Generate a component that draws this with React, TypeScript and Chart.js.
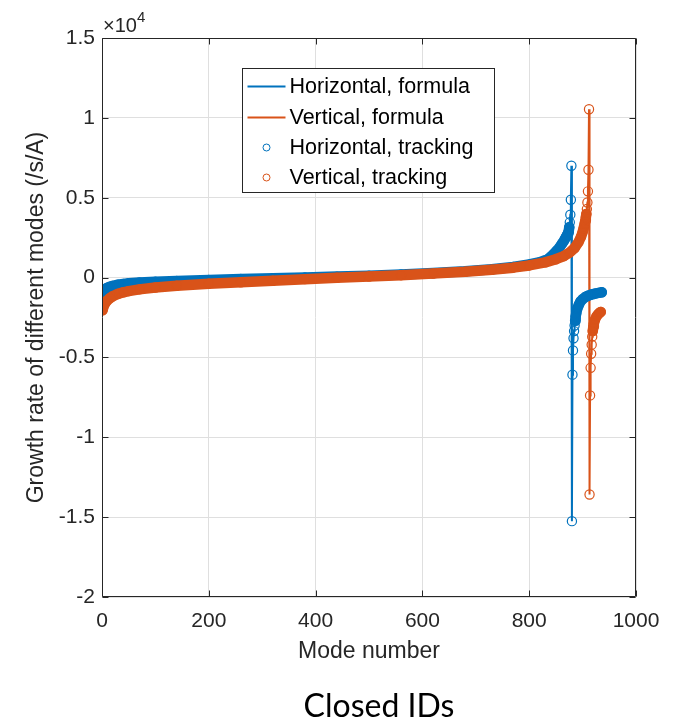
import React, { useEffect, useRef } from 'react';
import { Chart, registerables } from 'chart.js';

Chart.register(...registerables);

// ---- data (values in /s/A) ----
const hModes = [1, 3, 6, 10, 15, 20, 30, 40, 50, 70, 100, 140, 200, 260, 320, 380, 440, 500, 560, 620, 680, 730, 770, 800, 820, 835, 845, 852, 858, 862, 865, 867, 869, 870, 871, 872, 873, 874, 875, 876, 877, 878, 879, 880, 881, 882, 883, 884, 885, 886, 887, 888, 890, 893, 896, 900, 905, 910, 915, 920, 925, 930, 936];
const hValues = [-900, -800, -720, -640, -570, -520, -450, -400, -360, -310, -260, -210, -150, -90, -40, 10, 60, 120, 190, 280, 390, 520, 660, 820, 960, 1150, 1450, 1700, 1950, 2150, 2300, 2420, 2540, 2600, 2660, 2730, 2800, 2900, 3150, 3460, 3940, 4875, 7000, -15250, -6080, -4560, -3800, -3350, -3000, -2700, -2450, -2250, -1950, -1700, -1500, -1350, -1220, -1140, -1080, -1030, -990, -960, -920];

const vModes = [1, 3, 6, 10, 15, 20, 30, 40, 50, 70, 100, 140, 200, 260, 320, 380, 440, 500, 560, 620, 680, 730, 770, 800, 830, 850, 865, 875, 885, 892, 897, 900, 902, 904, 905, 906, 907, 908, 909, 910, 911, 912, 913, 914, 915, 916, 917, 918, 919, 920, 921, 923, 926, 929, 932, 934];
const vValues = [-2050, -1800, -1600, -1430, -1280, -1170, -1020, -920, -850, -740, -620, -510, -380, -290, -200, -100, -10, 70, 150, 250, 360, 490, 620, 760, 950, 1150, 1350, 1550, 1850, 2200, 2550, 2850, 3100, 3380, 3550, 3750, 3980, 4290, 4700, 5400, 6750, 10540, -13580, -7380, -5650, -4770, -4200, -3700, -3350, -3100, -2900, -2650, -2430, -2300, -2200, -2150];

const seriesLabels = ['Horizontal, formula', 'Vertical, formula', 'Horizontal, tracking', 'Vertical, tracking'];
const xTicks = [0, 200, 400, 600, 800, 1000];
const yTicks = [-20000, -15000, -10000, -5000, 0, 5000, 10000, 15000];
const xLabel = 'Mode number';
const yLabel = 'Growth rate of different modes (/s/A)';
const chartTitle = 'Closed IDs';

const BLUE = '#0072BD';
const ORANGE = '#D95319';
const AXIS = '#262626';
const SANS = '"Liberation Sans", Arial, Helvetica, sans-serif';

const toPoints = (xs: number[], ys: number[]) => xs.map((x, i) => ({ x, y: ys[i] }));

// Dense runs of tracking circles (small pixel step per mode) merge into a solid band.
const bandColor = (color: string, modes: number[]) => (ctx: any) => {
  const dm = Math.max(1, modes[ctx.p1DataIndex] - modes[ctx.p0DataIndex]);
  const dy = Math.abs(ctx.p1.y - ctx.p0.y) / dm;
  return dy < 4.5 ? color : 'rgba(0,0,0,0)';
};

const framePlugin = {
  id: 'frame',
  afterDatasetsDraw(chart: any) {
    const { ctx, chartArea: a, scales } = chart;
    ctx.save();
    ctx.strokeStyle = AXIS;
    ctx.lineWidth = 1;
    const L = Math.round(a.left) + 0.5;
    const R = Math.round(a.right) - 0.5;
    const T = Math.round(a.top) + 0.5;
    const B = Math.round(a.bottom) - 0.5;
    ctx.beginPath();
    ctx.rect(L, T, R - L, B - T);
    xTicks.forEach((v) => {
      const x = Math.round(scales.x.getPixelForValue(v)) + 0.5;
      ctx.moveTo(x, B);
      ctx.lineTo(x, B - 6);
      ctx.moveTo(x, T);
      ctx.lineTo(x, T + 6);
    });
    yTicks.forEach((v) => {
      const y = Math.round(scales.y.getPixelForValue(v)) + 0.5;
      ctx.moveTo(L, y);
      ctx.lineTo(L + 6, y);
      ctx.moveTo(R, y);
      ctx.lineTo(R - 6, y);
    });
    ctx.stroke();

    // exponent label
    ctx.fillStyle = AXIS;
    ctx.textBaseline = 'alphabetic';
    ctx.textAlign = 'left';
    ctx.font = '20px ' + SANS;
    ctx.fillText('\u00d710', a.left + 1, a.top - 6);
    const w = ctx.measureText('\u00d710').width;
    ctx.font = '15px ' + SANS;
    ctx.fillText('4', a.left + 1 + w, a.top - 16);
    ctx.restore();
  },
  afterDraw(chart: any) {
    const { ctx, chartArea: a } = chart;
    ctx.save();
    const bx = Math.round(a.left + 140) + 0.5;
    const by = Math.round(a.top + 30) + 0.5;
    const bw = 252;
    const bh = 124;
    ctx.fillStyle = '#ffffff';
    ctx.fillRect(bx, by, bw, bh);
    ctx.strokeStyle = AXIS;
    ctx.lineWidth = 1;
    ctx.strokeRect(bx, by, bw, bh);
    const rows = [18, 49, 79, 109];
    const colors = [BLUE, ORANGE, BLUE, ORANGE];
    ctx.font = '21.5px ' + SANS;
    ctx.textBaseline = 'middle';
    ctx.textAlign = 'left';
    rows.forEach((ry, i) => {
      const y = by + ry;
      if (i < 2) {
        ctx.strokeStyle = colors[i];
        ctx.lineWidth = 2;
        ctx.beginPath();
        ctx.moveTo(bx + 5, y);
        ctx.lineTo(bx + 43, y);
        ctx.stroke();
      } else {
        ctx.strokeStyle = colors[i];
        ctx.lineWidth = 1;
        ctx.beginPath();
        ctx.arc(bx + 24, y, 3.5, 0, Math.PI * 2);
        ctx.stroke();
      }
      ctx.fillStyle = '#000000';
      ctx.fillText(seriesLabels[i], bx + 47, y + 1);
    });
    ctx.restore();
  },
};

export default function App() {
  const ref = useRef<HTMLCanvasElement | null>(null);

  useEffect(() => {
    if (!ref.current) return;
    const hPts = toPoints(hModes, hValues);
    const vPts = toPoints(vModes, vValues);
    const trackingStyle = {
      borderWidth: 10.5,
      borderCapStyle: 'round',
      borderJoinStyle: 'round',
      pointRadius: 4.6,
      pointBorderWidth: 1.2,
      pointBackgroundColor: 'rgba(0,0,0,0)',
    };
    const chart = new Chart(ref.current, {
      type: 'line',
      data: {
        datasets: [
          { label: seriesLabels[0], data: hPts, borderColor: BLUE, borderWidth: 2, pointRadius: 0, order: 3 },
          { label: seriesLabels[1], data: vPts, borderColor: ORANGE, borderWidth: 2, pointRadius: 0, order: 2 },
          {
            label: seriesLabels[2],
            data: hPts,
            borderColor: BLUE,
            pointBorderColor: BLUE,
            segment: { borderColor: bandColor(BLUE, hModes) },
            order: 1,
            ...trackingStyle,
          },
          {
            label: seriesLabels[3],
            data: vPts,
            borderColor: ORANGE,
            pointBorderColor: ORANGE,
            segment: { borderColor: bandColor(ORANGE, vModes) },
            order: 0,
            ...trackingStyle,
          },
        ] as any,
      },
      options: {
        animation: false,
        responsive: false,
        devicePixelRatio: 1,
        layout: { padding: { left: 0, right: 51, top: 38, bottom: 60.4 } },
        plugins: {
          legend: { display: false },
          tooltip: { enabled: false },
          title: { display: false },
        },
        scales: {
          x: {
            type: 'linear',
            min: 0,
            max: 1000,
            ticks: {
              stepSize: 200,
              color: AXIS,
              font: { family: SANS, size: 21 },
              padding: 12,
              maxRotation: 0,
              callback: (v: any) => String(v),
            },
            grid: { color: '#dfdfdf', drawTicks: false },
            border: { display: false },
            title: {
              display: true,
              text: xLabel,
              color: AXIS,
              font: { family: SANS, size: 23 },
              padding: { top: 0, bottom: 0 },
            },
            afterFit: (s: any) => {
              s.height = 68.6;
            },
          },
          y: {
            type: 'linear',
            min: -20000,
            max: 15000,
            ticks: {
              stepSize: 5000,
              color: AXIS,
              font: { family: SANS, size: 21 },
              padding: 7,
              callback: (v: any) => String(Number(v) / 10000),
            },
            grid: { color: '#dfdfdf', drawTicks: false },
            border: { display: false },
            title: {
              display: true,
              text: yLabel,
              color: AXIS,
              font: { family: SANS, size: 23 },
              padding: { top: 23, bottom: 0 },
            },
            afterFit: (s: any) => {
              s.width = 102;
            },
          },
        },
      },
      plugins: [framePlugin],
    });
    return () => chart.destroy();
  }, []);

  return (
    <div style={{ position: 'absolute', left: 0, top: 0, width: 687, height: 726, background: '#fff' }}>
      <canvas ref={ref} width={687} height={726} style={{ position: 'absolute', left: 0, top: 0 }} />
      <div
        style={{
          position: 'absolute',
          left: 379,
          top: 689,
          transform: 'translateX(-50%)',
          fontFamily: 'Lato, "Open Sans", sans-serif',
          fontSize: 32,
          lineHeight: '32px',
          color: '#000',
          whiteSpace: 'nowrap',
        }}
      >
        {chartTitle}
      </div>
    </div>
  );
}
